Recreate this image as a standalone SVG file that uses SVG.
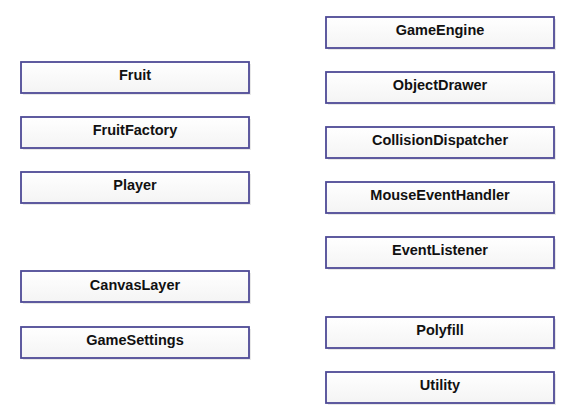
<svg xmlns="http://www.w3.org/2000/svg" width="573" height="419" viewBox="0 0 573 419">
<defs>
<linearGradient id="g" x1="0" y1="0" x2="0" y2="1">
<stop offset="0" stop-color="#ffffff"/>
<stop offset="1" stop-color="#f4f4f4"/>
</linearGradient>
</defs>
<style>
.box{fill:url(#g);stroke:#4e4a96;stroke-width:1.8}
.sh{fill:#e8e8e8}
.t{font-family:"Liberation Sans",Arial,sans-serif;font-size:14.5px;font-weight:bold;fill:#111;text-anchor:middle}
</style>
<rect width="573" height="419" fill="#ffffff"/>
<g id="connectors"/>
<g id="Fruit"><rect class="sh" x="23" y="64" width="228" height="31"/><rect class="box" x="21" y="62" width="228" height="31"/><text class="t" x="135" y="80">Fruit</text></g>
<g id="FruitFactory"><rect class="sh" x="23" y="119" width="228" height="31"/><rect class="box" x="21" y="117" width="228" height="31"/><text class="t" x="135" y="135">FruitFactory</text></g>
<g id="Player"><rect class="sh" x="23" y="174" width="228" height="31"/><rect class="box" x="21" y="172" width="228" height="31"/><text class="t" x="135" y="190">Player</text></g>
<g id="CanvasLayer"><rect class="sh" x="23" y="273" width="228" height="31"/><rect class="box" x="21" y="271" width="228" height="31"/><text class="t" x="135" y="290">CanvasLayer</text></g>
<g id="GameSettings"><rect class="sh" x="23" y="329" width="228" height="31"/><rect class="box" x="21" y="327" width="228" height="31"/><text class="t" x="135" y="345">GameSettings</text></g>
<g id="GameEngine"><rect class="sh" x="328" y="19" width="228" height="31"/><rect class="box" x="326" y="17" width="228" height="31"/><text class="t" x="440" y="35">GameEngine</text></g>
<g id="ObjectDrawer"><rect class="sh" x="328" y="74" width="228" height="31"/><rect class="box" x="326" y="72" width="228" height="31"/><text class="t" x="440" y="90">ObjectDrawer</text></g>
<g id="CollisionDispatcher"><rect class="sh" x="328" y="129" width="228" height="31"/><rect class="box" x="326" y="127" width="228" height="31"/><text class="t" x="440" y="145">CollisionDispatcher</text></g>
<g id="MouseEventHandler"><rect class="sh" x="328" y="184" width="228" height="31"/><rect class="box" x="326" y="182" width="228" height="31"/><text class="t" x="440" y="200">MouseEventHandler</text></g>
<g id="EventListener"><rect class="sh" x="328" y="239" width="228" height="31"/><rect class="box" x="326" y="237" width="228" height="31"/><text class="t" x="440" y="255">EventListener</text></g>
<g id="Polyfill"><rect class="sh" x="328" y="319" width="228" height="31"/><rect class="box" x="326" y="317" width="228" height="31"/><text class="t" x="440" y="335">Polyfill</text></g>
<g id="Utility"><rect class="sh" x="328" y="374" width="228" height="31"/><rect class="box" x="326" y="372" width="228" height="31"/><text class="t" x="440" y="390">Utility</text></g>
</svg>
